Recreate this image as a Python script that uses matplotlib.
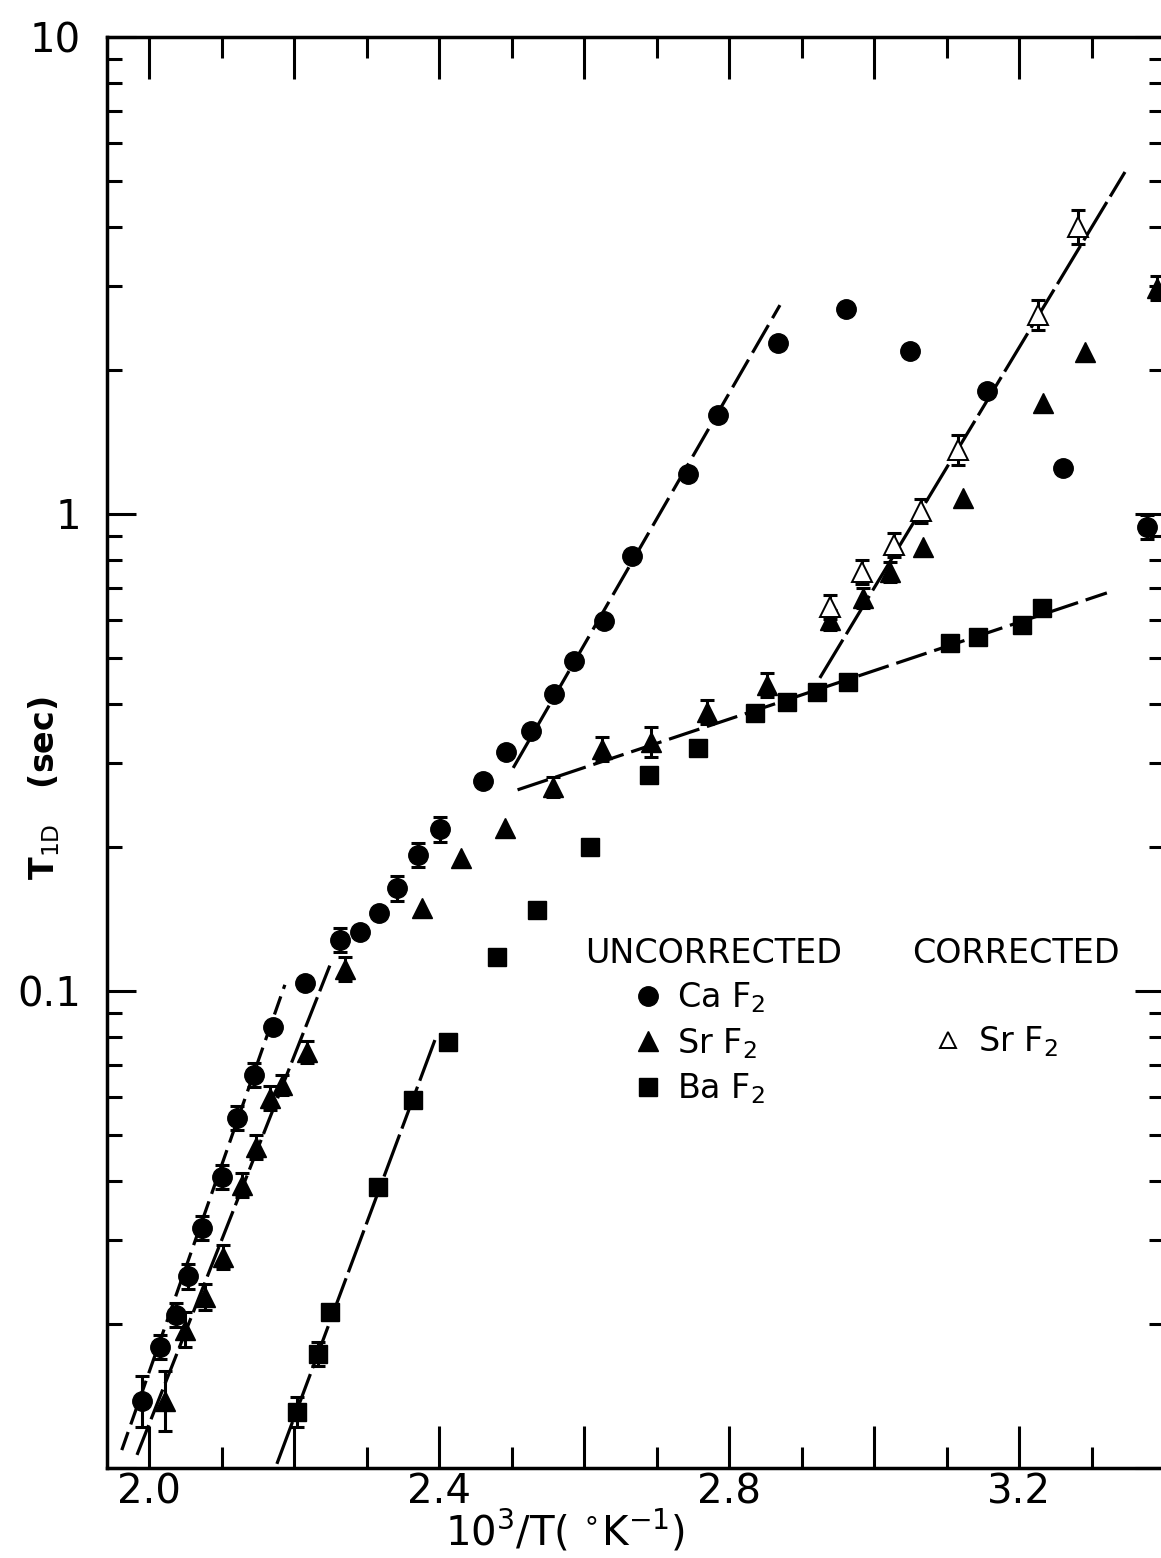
import numpy as np
import matplotlib.pyplot as plt
from matplotlib.ticker import FixedLocator, FixedFormatter, LogLocator, NullFormatter
from matplotlib.lines import Line2D

# x = 10^3/T (K^-1), y = T1D (sec)
# error factors: multiplicative half-width of the bar, 0 = no bar drawn

# CaF2, uncorrected
ca_x = [1.990, 2.015, 2.037, 2.053, 2.073, 2.100, 2.121, 2.144, 2.171, 2.215,
        2.263, 2.291, 2.317, 2.342, 2.371, 2.401, 2.460, 2.492, 2.527, 2.558,
        2.586, 2.627, 2.666, 2.743, 2.785, 2.867, 2.961, 3.049, 3.156, 3.261,
        3.376]
ca_y = [0.0138, 0.0179, 0.0209, 0.0252, 0.0319, 0.0407, 0.0542, 0.0667, 0.0841, 0.104,
        0.128, 0.133, 0.146, 0.164, 0.193, 0.218, 0.276, 0.317, 0.351, 0.420,
        0.492, 0.597, 0.816, 1.21, 1.61, 2.28, 2.69, 2.20, 1.81, 1.25,
        0.939]
ca_err = [1.13, 1.06, 1.06, 1.06, 1.06, 1.06, 1.06, 1.06, 0, 0,
          1.06, 0, 0, 1.06, 1.06, 1.06, 0, 0, 0, 0,
          0, 0, 0, 0, 0, 0, 0, 0, 0, 0,
          1.06]

# SrF2, uncorrected
sr_x = [2.022, 2.049, 2.077, 2.102, 2.128, 2.147, 2.166, 2.183, 2.218, 2.270,
        2.376, 2.430, 2.491, 2.557, 2.625, 2.692, 2.769, 2.852, 2.939, 2.985,
        3.022, 3.067, 3.122, 3.233, 3.291, 3.390]
sr_y = [0.0138, 0.0195, 0.0228, 0.0277, 0.0392, 0.0471, 0.0597, 0.0635, 0.0745, 0.111,
        0.149, 0.190, 0.220, 0.268, 0.322, 0.333, 0.385, 0.438, 0.599, 0.667,
        0.756, 0.853, 1.08, 1.71, 2.19, 2.98]
sr_err = [1.155, 1.09, 1.065, 1.06, 1.06, 1.06, 1.06, 1.05, 1.055, 1.06,
          0, 0, 0, 1.05, 1.06, 1.075, 1.06, 1.06, 1.05, 1.05,
          1.05, 0, 0, 0, 0, 1.06]

# SrF2, corrected
src_x = [2.939, 2.983, 3.027, 3.064, 3.116, 3.226, 3.281]
src_y = [0.638, 0.756, 0.861, 1.015, 1.36, 2.61, 4.00]
src_err = [1.06, 1.06, 1.06, 1.06, 1.075, 1.075, 1.085]

# BaF2, uncorrected
ba_x = [2.204, 2.233, 2.249, 2.315, 2.364, 2.412, 2.480, 2.535, 2.608, 2.689,
        2.757, 2.836, 2.880, 2.921, 2.964, 3.105, 3.143, 3.204, 3.232]
ba_y = [0.0131, 0.0173, 0.0212, 0.0388, 0.0591, 0.0782, 0.118, 0.148, 0.200, 0.284,
        0.323, 0.383, 0.404, 0.423, 0.444, 0.536, 0.552, 0.585, 0.635]
ba_err = [1.075, 1.06, 0, 0, 0, 0, 0, 0, 0, 0,
          0, 0, 0, 0, 0, 0, 0, 0, 0]

# straight-line fits (end points in x, y)
fit_ca_lo = ([1.962, 2.187], [0.0109, 0.103])
fit_ca_hi = ([2.502, 2.870], [0.2935, 2.74])
fit_sr_lo = ([1.983, 2.249], [0.01065, 0.113])
fit_mid = ([2.508, 3.321], [0.264, 0.683])
fit_sr_hi = ([2.925, 3.346], [0.453, 5.21])
fit_ba_lo = ([2.176, 2.394], [0.0102, 0.0789])

x_major = [2.0, 2.2, 2.4, 2.6, 2.8, 3.0, 3.2]
x_major_labels = ['2.0', '', '2.4', '', '2.8', '', '3.2']
x_minor = [2.1, 2.3, 2.5, 2.7, 2.9, 3.1, 3.3]
y_major = [0.01, 0.1, 1, 10]
y_major_labels = ['', '0.1', '1', '10']

plt.rcParams.update({
    'font.family': 'DejaVu Sans',
    'mathtext.fontset': 'dejavusans',
    'axes.linewidth': 2.5,
})

fig = plt.figure(figsize=(11.61, 15.58), dpi=100)
ax = fig.add_axes([0.0924, 0.0578, 0.9103, 0.9185])
ax.set_yscale('log')
ax.set_xlim(1.942, 3.40)
ax.set_ylim(0.01, 10)

lw_fit = 2.3
for (fx, fy), dash in [(fit_ca_lo, (6, 2.5)), (fit_ca_hi, (10, 2.5)),
                       (fit_sr_lo, (10, 2)), (fit_mid, (10, 2.5)),
                       (fit_sr_hi, (14, 2)), (fit_ba_lo, (14, 2))]:
    ax.plot(fx, fy, color='k', lw=lw_fit, linestyle=(0, dash), zorder=1)


def bars(x, y, f):
    x, y, f = np.asarray(x), np.asarray(y), np.asarray(f)
    m = f > 0
    lo = y[m] - y[m] / f[m]
    hi = y[m] * f[m] - y[m]
    ax.errorbar(x[m], y[m], yerr=[lo, hi], fmt='none', ecolor='k',
                elinewidth=2.2, capsize=5, capthick=2.2, zorder=2)


bars(ca_x, ca_y, ca_err)
bars(sr_x, sr_y, sr_err)
bars(src_x, src_y, src_err)
bars(ba_x, ba_y, ba_err)

h_ca, = ax.plot(ca_x, ca_y, 'o', color='k', ms=14, zorder=3, label='Ca F$_2$')
h_sr, = ax.plot(sr_x, sr_y, '^', color='k', ms=15, zorder=3, label='Sr F$_2$')
h_ba, = ax.plot(ba_x, ba_y, 's', color='k', ms=13, zorder=3, label='Ba F$_2$')
h_src, = ax.plot(src_x, src_y, '^', mfc='white', mec='k', mew=1.4, ms=15,
                 zorder=4, label='Sr F$_2$')

# axes, ticks
ax.xaxis.set_major_locator(FixedLocator(x_major))
ax.xaxis.set_major_formatter(FixedFormatter(x_major_labels))
ax.xaxis.set_minor_locator(FixedLocator(x_minor))
ax.yaxis.set_major_locator(FixedLocator(y_major))
ax.yaxis.set_major_formatter(FixedFormatter(y_major_labels))
ax.yaxis.set_minor_locator(LogLocator(base=10, subs=np.arange(2, 10)))
ax.yaxis.set_minor_formatter(NullFormatter())

ax.tick_params(which='both', direction='in', top=True, right=True,
               width=2.2, colors='k')
ax.tick_params(axis='x', which='major', length=30, labelsize=29, pad=3)
ax.tick_params(axis='x', which='minor', length=15)
ax.tick_params(axis='y', which='major', length=21, labelsize=29, pad=19)
ax.tick_params(axis='y', which='minor', length=11)

ax.set_xlabel(r'10$^3$/T( $^{\circ}$K$^{-1}$)', fontsize=29)
ax.xaxis.set_label_coords(0.433, -0.028)
ax.set_ylabel(r'T$_{\mathrm{1D}}$   (sec)', fontsize=24, fontweight='bold')
ax.yaxis.set_label_coords(-0.043, 0.475)

# legend: uncorrected / corrected columns
leg1 = ax.legend(handles=[h_ca, h_sr, h_ba], title='UNCORRECTED',
                 loc='upper left', bbox_to_anchor=(0.452, 0.371),
                 frameon=False, fontsize=24, title_fontsize=24,
                 alignment='left', borderpad=0, borderaxespad=0,
                 handlelength=3.8, handletextpad=-1.05, labelspacing=0.32,
                 markerscale=1.0)
ax.add_artist(leg1)
blank = Line2D([], [], linestyle='none', marker='none', label=' ')
leg2 = ax.legend(handles=[blank, h_src, blank], title='CORRECTED',
                 loc='upper left', bbox_to_anchor=(0.7616, 0.371),
                 frameon=False, fontsize=24, title_fontsize=24,
                 alignment='left', borderpad=0, borderaxespad=0,
                 handlelength=2.16, handletextpad=-0.2, labelspacing=0.32,
                 markerscale=0.8)

fig.savefig('out.png', dpi=100)
